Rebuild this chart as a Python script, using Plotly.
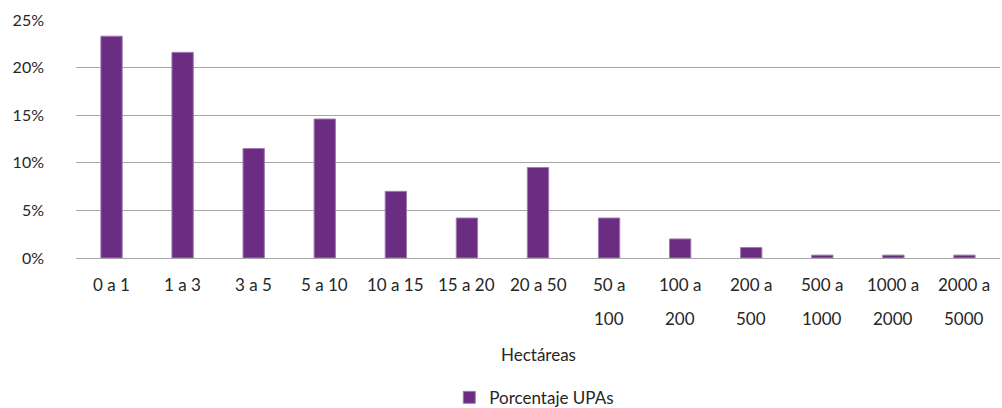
import plotly.graph_objects as go

# Rangos de superficie (hectáreas) y porcentaje de UPAs en cada rango
categorias = ["0 a 1", "1 a 3", "3 a 5", "5 a 10", "10 a 15", "15 a 20", "20 a 50",
              "50 a 100", "100 a 200", "200 a 500", "500 a 1000", "1000 a 2000", "2000 a 5000"]
porcentaje_upas = [23.3, 21.6, 11.5, 14.6, 7.0, 4.2, 9.5, 4.2, 2.0, 1.1, 0.3, 0.3, 0.3]
etiquetas_x = [["0 a 1"], ["1 a 3"], ["3 a 5"], ["5 a 10"], ["10 a 15"], ["15 a 20"], ["20 a 50"],
               ["50 a", "100"], ["100 a", "200"], ["200 a", "500"], ["500 a", "1000"],
               ["1000 a", "2000"], ["2000 a", "5000"]]
valores_y = [0, 5, 10, 15, 20, 25]
etiquetas_y = [f"{v}%" for v in valores_y]

FUENTE = "Lato"
COLOR_TEXTO = "#262626"

fig = go.Figure()
fig.add_trace(go.Bar(
    x=categorias,
    y=porcentaje_upas,
    name="Porcentaje UPAs",
    marker=dict(color="#6b2d82", line=dict(color="#a27ab4", width=1)),
))

# Etiquetas del eje X en dos renglones, con interlineado amplio
anotaciones = []
for cat, lineas in zip(categorias, etiquetas_x):
    for i, linea in enumerate(lineas):
        anotaciones.append(dict(
            x=cat, xref="x", y=[-0.113, -0.256][i], yref="paper",
            text=linea, showarrow=False, xanchor="center", yanchor="middle",
            font=dict(family=FUENTE, size=17, color=COLOR_TEXTO),
        ))
anotaciones.append(dict(
    x=0.5, xref="paper", y=-0.405, yref="paper", text="Hectáreas",
    showarrow=False, xanchor="center", yanchor="middle",
    font=dict(family=FUENTE, size=17, color=COLOR_TEXTO),
))

fig.update_layout(
    width=1002, height=408,
    margin=dict(l=76, r=2, t=20, b=150),
    paper_bgcolor="white", plot_bgcolor="white",
    bargap=0.7,
    showlegend=True,
    legend=dict(orientation="h", x=0.404, xanchor="left",
                y=0.025, yref="container", yanchor="middle",
                font=dict(family=FUENTE, size=17, color=COLOR_TEXTO),
                itemwidth=30),
    annotations=anotaciones,
    xaxis=dict(showticklabels=False, showgrid=False, showline=False, ticks=""),
    yaxis=dict(range=[0, 25], tickvals=valores_y, ticktext=etiquetas_y,
               showgrid=True, gridcolor="#a6a6a6", gridwidth=1,
               zeroline=True, zerolinecolor="#a6a6a6", zerolinewidth=1,
               showline=False, ticklabelstandoff=31,
               tickfont=dict(family=FUENTE, size=16, color=COLOR_TEXTO)),
    font=dict(family=FUENTE, color=COLOR_TEXTO),
)

fig.write_html("out.html")
